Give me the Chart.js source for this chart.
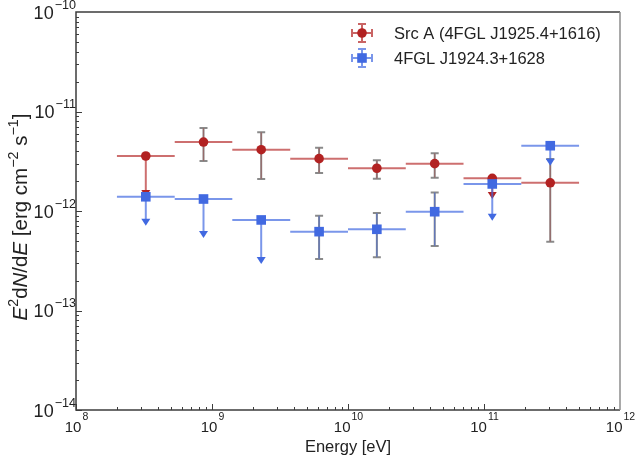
<!DOCTYPE html>
<html>
<head>
<meta charset="utf-8">
<script src="https://cdn.jsdelivr.net/npm/chart.js@4.4.1/dist/chart.umd.min.js"></script>
<style>
  body { margin: 0; background: #fff; }
  canvas { display: block; }
</style>
</head>
<body>
<canvas id="sed" width="635" height="464"></canvas>
<script>
// Energy bins [eV]
const binEdges = [2.0e8, 5.32e8, 1.41e9, 3.76e9, 1.0e10, 2.66e10, 7.07e10, 1.88e11, 5.0e11];
const energies = [3.26e8, 8.66e8, 2.30e9, 6.13e9, 1.63e10, 4.34e10, 1.15e11, 3.07e11];

// Src A (4FGL J1925.4+1616)
const srcAFlux = [3.57e-12, 4.93e-12, 4.13e-12, 3.36e-12, 2.69e-12, 2.99e-12, 2.13e-12, 1.92e-12];
const srcALow  = [1.38e-12, 3.18e-12, 2.10e-12, 2.41e-12, 2.11e-12, 2.16e-12, 1.32e-12, 4.91e-13];
const srcAHigh = [null, 6.82e-12, 6.18e-12, 4.33e-12, 3.24e-12, 3.80e-12, null, 3.34e-12];
const srcAUL   = [true, false, false, false, false, false, true, false];

// 4FGL J1924.3+1628
const fglFlux = [1.39e-12, 1.32e-12, 8.13e-13, 6.20e-13, 6.55e-13, 9.84e-13, 1.87e-12, 4.53e-12];
const fglLow  = [7.1e-13, 5.35e-13, 2.93e-13, 3.30e-13, 3.43e-13, 4.45e-13, 8.0e-13, 2.85e-12];
const fglHigh = [null, null, null, 8.97e-13, 9.55e-13, 1.53e-12, null, null];
const fglUL   = [true, true, true, false, false, false, true, true];

const xTicks = [1e8, 1e9, 1e10, 1e11, 1e12];
const yTicks = [1e-14, 1e-13, 1e-12, 1e-11, 1e-10];

const FONT = '"Liberation Sans", Arial, sans-serif';
const RED = '#b22222';
const BLUE = '#4169e1';

function points(flux) {
    return energies.map((e, i) => ({ x: e, y: flux[i] }));
}

// error bars + upper limit arrows, drawn just under each dataset's markers
const errorBars = {
    id: 'errorBars',
    beforeDatasetDraw(chart, args) {
        const ds = chart.data.datasets[args.index];
        const xs = chart.scales.x, ys = chart.scales.y;
        const ctx = chart.ctx;
        ctx.save();
        ds.flux.forEach((f, i) => {
            const px = xs.getPixelForValue(energies[i]);
            const py = ys.getPixelForValue(f);
            // horizontal bin bar
            ctx.strokeStyle = ds.barColor;
            ctx.lineWidth = 2;
            ctx.beginPath();
            ctx.moveTo(xs.getPixelForValue(binEdges[i]), py);
            ctx.lineTo(xs.getPixelForValue(binEdges[i + 1]), py);
            ctx.stroke();
            const lo = ys.getPixelForValue(ds.low[i]);
            if (ds.ul[i]) {
                ctx.strokeStyle = ds.barColor;
                ctx.lineWidth = 2;
                ctx.beginPath();
                ctx.moveTo(px, py);
                ctx.lineTo(px, lo - 5);
                ctx.stroke();
                ctx.fillStyle = ds.color;
                ctx.beginPath();
                ctx.moveTo(px - 4.5, lo - 7);
                ctx.lineTo(px + 4.5, lo - 7);
                ctx.lineTo(px, lo);
                ctx.closePath();
                ctx.fill();
            } else {
                const hi = ys.getPixelForValue(ds.high[i]);
                ctx.strokeStyle = '#8a8a8a';
                ctx.lineWidth = 2;
                ctx.beginPath();
                ctx.moveTo(px, hi);
                ctx.lineTo(px, lo);
                ctx.moveTo(px - 4, hi);
                ctx.lineTo(px + 4, hi);
                ctx.moveTo(px - 4, lo);
                ctx.lineTo(px + 4, lo);
                ctx.stroke();
                ctx.strokeStyle = ds.tint;
                ctx.lineWidth = 1.2;
                ctx.beginPath();
                ctx.moveTo(px, hi);
                ctx.lineTo(px, lo);
                ctx.stroke();
            }
        });
        ctx.restore();
    }
};

function drawPow(ctx, x, y, exp, align, size, lift) {
    const base = '10';
    const small = size * 0.7;
    ctx.font = size + 'px ' + FONT;
    const w1 = ctx.measureText(base).width;
    ctx.font = small + 'px ' + FONT;
    const w2 = ctx.measureText(exp).width;
    let left = align === 'center' ? x - (w1 + w2) / 2 : x - w1 - w2;
    ctx.textAlign = 'left';
    ctx.textBaseline = 'alphabetic';
    ctx.font = size + 'px ' + FONT;
    ctx.fillText(base, left, y);
    ctx.font = small + 'px ' + FONT;
    ctx.fillText(exp, left + w1 + 1, y - lift);
}

function drawRich(ctx, parts, x, y, size) {
    // parts: [text, style] where style is '', 'i' or 's'
    const fontOf = s => s === 'i' ? 'italic ' + size + 'px ' + FONT : s === 's' ? (size * 0.7) + 'px ' + FONT : size + 'px ' + FONT;
    let total = 0;
    parts.forEach(p => { ctx.font = fontOf(p[1]); total += ctx.measureText(p[0]).width; });
    let cx = x - total / 2;
    parts.forEach(p => {
        ctx.font = fontOf(p[1]);
        ctx.fillText(p[0], cx, p[1] === 's' ? y - size * 0.42 : y);
        cx += ctx.measureText(p[0]).width;
    });
}

const frame = {
    id: 'frame',
    afterDraw(chart) {
        const { ctx, chartArea: a, scales: { x: xs, y: ys } } = chart;
        ctx.save();
        // box
        ctx.strokeStyle = '#3c3c3c';
        ctx.lineWidth = 1.5;
        ctx.beginPath();
        ctx.moveTo(a.right, a.top);
        ctx.lineTo(a.left, a.top);
        ctx.lineTo(a.left, a.bottom);
        ctx.lineTo(a.right, a.bottom);
        ctx.stroke();
        ctx.strokeStyle = '#8c8c8c';
        ctx.beginPath();
        ctx.moveTo(a.right, a.top);
        ctx.lineTo(a.right, a.bottom);
        ctx.stroke();

        // ticks pointing inward
        ctx.strokeStyle = '#3c3c3c';
        ctx.lineWidth = 1;
        ctx.beginPath();
        for (let d = 8; d < 12; d++) {
            for (let m = 1; m < 10; m++) {
                const px = Math.round(xs.getPixelForValue(m * Math.pow(10, d))) + 0.5;
                const len = m === 1 ? 6 : 3;
                ctx.moveTo(px, a.bottom);
                ctx.lineTo(px, a.bottom - len);
            }
        }
        for (let d = -14; d < -10; d++) {
            for (let m = 1; m < 10; m++) {
                const py = Math.round(ys.getPixelForValue(m * Math.pow(10, d))) + 0.5;
                const len = m === 1 ? 6 : 3;
                ctx.moveTo(a.left, py);
                ctx.lineTo(a.left + len, py);
            }
        }
        ctx.stroke();

        // tick labels
        ctx.fillStyle = '#222';
        xTicks.forEach(v => {
            drawPow(ctx, xs.getPixelForValue(v), a.bottom + 22, String(Math.round(Math.log10(v))), 'center', 15, 12);
        });
        yTicks.forEach(v => {
            drawPow(ctx, a.left - 1, ys.getPixelForValue(v) + 6.5, '\u2212' + String(-Math.round(Math.log10(v))), 'right', 18, 10);
        });

        // axis titles
        ctx.textBaseline = 'alphabetic';
        ctx.textAlign = 'left';
        drawRich(ctx, [['Energy [eV]', '']], (a.left + a.right) / 2, a.bottom + 42, 16.5);
        ctx.save();
        ctx.translate(27, (a.top + a.bottom) / 2 + 6);
        ctx.rotate(-Math.PI / 2);
        drawRich(ctx, [['E', 'i'], ['2', 's'], ['d', ''], ['N', 'i'], ['/d', ''], ['E', 'i'],
            [' [erg cm', ''], ['\u22122', 's'], [' s', ''], ['\u22121', 's'], [']', '']], 0, 0, 20.5);
        ctx.restore();

        // legend
        const items = [
            { label: 'Src A (4FGL J1925.4+1616)', color: RED, shape: 'circle', y: 33 },
            { label: '4FGL J1924.3+1628', color: BLUE, shape: 'square', y: 58 }
        ];
        items.forEach(it => {
            const lx = 362;
            ctx.strokeStyle = it.color;
            ctx.globalAlpha = 0.7;
            ctx.lineWidth = 2;
            ctx.beginPath();
            ctx.moveTo(lx - 10, it.y); ctx.lineTo(lx + 10, it.y);
            ctx.moveTo(lx, it.y - 9); ctx.lineTo(lx, it.y + 9);
            ctx.moveTo(lx - 4, it.y - 9); ctx.lineTo(lx + 4, it.y - 9);
            ctx.moveTo(lx - 4, it.y + 9); ctx.lineTo(lx + 4, it.y + 9);
            ctx.moveTo(lx - 10, it.y - 4); ctx.lineTo(lx - 10, it.y + 4);
            ctx.moveTo(lx + 10, it.y - 4); ctx.lineTo(lx + 10, it.y + 4);
            ctx.stroke();
            ctx.globalAlpha = 1;
            ctx.fillStyle = it.color;
            ctx.beginPath();
            if (it.shape === 'circle') ctx.arc(lx, it.y, 4.8, 0, Math.PI * 2);
            else ctx.rect(lx - 4.8, it.y - 4.8, 9.6, 9.6);
            ctx.fill();
            ctx.fillStyle = '#222';
            ctx.font = '16.5px ' + FONT;
            ctx.textBaseline = 'middle';
            ctx.fillText(it.label, 394, it.y + 1);
        });
        ctx.restore();
    }
};

new Chart(document.getElementById('sed'), {
    type: 'scatter',
    data: {
        datasets: [
            {
                label: 'Src A (4FGL J1925.4+1616)',
                data: points(srcAFlux),
                flux: srcAFlux, low: srcALow, high: srcAHigh, ul: srcAUL,
                color: RED, barColor: 'rgba(178,34,34,0.65)', tint: 'rgba(178,34,34,0.3)',
                pointStyle: 'circle', pointRadius: 4.8, pointBorderWidth: 0,
                backgroundColor: RED, borderColor: RED,
                order: 1
            },
            {
                label: '4FGL J1924.3+1628',
                data: points(fglFlux),
                flux: fglFlux, low: fglLow, high: fglHigh, ul: fglUL,
                color: BLUE, barColor: 'rgba(65,105,225,0.7)', tint: 'rgba(65,105,225,0.6)',
                pointStyle: 'rect', pointRadius: 6.8, pointBorderWidth: 0,
                backgroundColor: BLUE, borderColor: BLUE,
                order: 0
            }
        ]
    },
    options: {
        responsive: false,
        animation: false,
        layout: { padding: { left: 76, right: 15, top: 12, bottom: 54 } },
        plugins: {
            legend: { display: false },
            tooltip: { enabled: false }
        },
        scales: {
            x: {
                type: 'logarithmic', min: 1e8, max: 1e12,
                grid: { display: false }, border: { display: false },
                ticks: { display: false },
                afterFit: s => { s.height = 0; }
            },
            y: {
                type: 'logarithmic', min: 1e-14, max: 1e-10,
                grid: { display: false }, border: { display: false },
                ticks: { display: false },
                afterFit: s => { s.width = 0; }
            }
        }
    },
    plugins: [errorBars, frame]
});
</script>
</body>
</html>
